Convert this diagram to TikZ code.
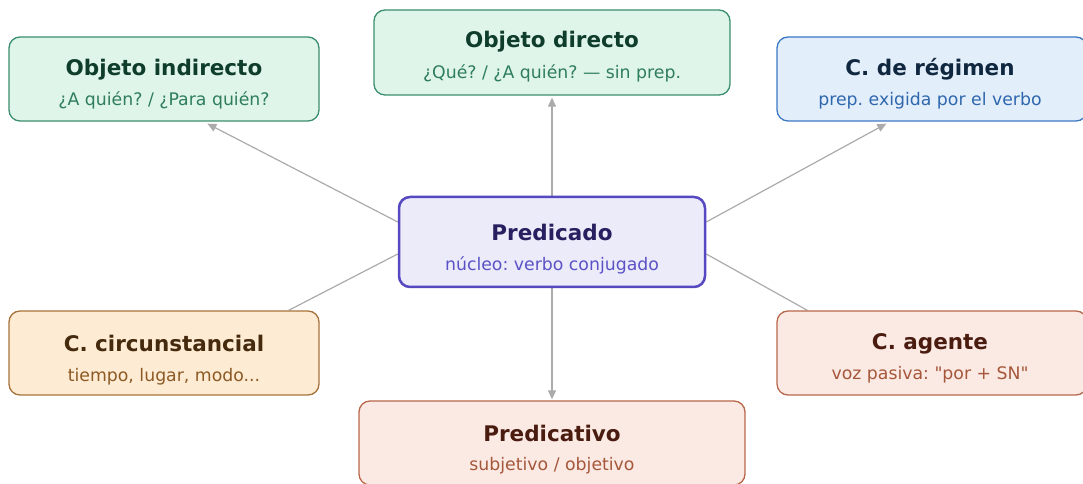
\documentclass[tikz,border=0pt]{standalone}
\usepackage{fontspec}
\setmainfont{DejaVu Sans}[Ligatures=TeXOff]
\frenchspacing
\usetikzlibrary{arrows.meta,calc,backgrounds}
\definecolor{gB}{HTML}{3A8F6E}\definecolor{gF}{HTML}{E0F5EA}\definecolor{gT}{HTML}{0F3D2B}\definecolor{gS}{HTML}{2E7D5B}
\definecolor{bB}{HTML}{3B78C4}\definecolor{bF}{HTML}{E3EEFB}\definecolor{bT}{HTML}{10283F}\definecolor{bS}{HTML}{2F67AD}
\definecolor{pB}{HTML}{5548C0}\definecolor{pF}{HTML}{EBEBFA}\definecolor{pT}{HTML}{272060}\definecolor{pS}{HTML}{5B52C6}
\definecolor{oB}{HTML}{A8733A}\definecolor{oF}{HTML}{FDEBD3}\definecolor{oT}{HTML}{452A0D}\definecolor{oS}{HTML}{8C5A25}
\definecolor{rB}{HTML}{B8674A}\definecolor{rF}{HTML}{FBE9E4}\definecolor{rT}{HTML}{4A1C10}\definecolor{rS}{HTML}{A5573A}
\definecolor{linkgray}{HTML}{ABABAB}
\tikzset{
  card/.style 2 args={draw=#1, fill=#2, rounded corners=11pt, line width=1.3pt, inner sep=0pt},
  ttl/.style={font=\fontsize{21.5}{24}\selectfont\bfseries, anchor=base, inner sep=0pt},
  subt/.style={font=\fontsize{17.3}{20}\selectfont, anchor=base, inner sep=0pt},
  conn/.style={draw=linkgray, line width=1.2pt},
  conarr/.style={conn, -{Triangle[length=9pt,width=8pt]}},
}
\begin{document}
\begin{tikzpicture}[x=1pt,y=1pt]
\useasboundingbox (0,0) rectangle (1083,484);
% boxes
\node[card={gB}{gF}, minimum width=310pt, minimum height=84pt] (oi) at (164,405) {};
\node[card={gB}{gF}, minimum width=356pt, minimum height=85pt] (od) at (552,431.5) {};
\node[card={bB}{bF}, minimum width=310pt, minimum height=84pt] (cr) at (932,405) {};
\node[card={pB}{pF}, line width=2.5pt, minimum width=306pt, minimum height=90pt] (pred) at (552,242) {};
\node[card={oB}{oF}, minimum width=310pt, minimum height=84pt] (cc) at (164,131) {};
\node[card={rB}{rF}, minimum width=386pt, minimum height=84pt] (pv) at (552,41) {};
\node[card={rB}{rF}, minimum width=310pt, minimum height=84pt] (ag) at (932,131) {};
% texts
\node[ttl, text=gT] (oi-t) at ($(oi.north)+(0,-39)$) {Objeto indirecto};
\node[subt, text=gS] (oi-s) at ($(oi.north)+(0,-69)$) {¿A quién? / ¿Para quién?};
\node[ttl, text=gT] (od-t) at ($(od.north)+(0,-38)$) {Objeto directo};
\node[subt, text=gS] (od-s) at ($(od.north)+(0,-69)$) {¿Qué? / ¿A quién? — sin prep.};
\node[ttl, text=bT] (cr-t) at ($(cr.north)+(-2,-39)$) {C. de régimen};
\node[subt, text=bS] (cr-s) at ($(cr.north)+(-2,-69)$) {prep. exigida por el verbo};
\node[ttl, text=pT] (pred-t) at ($(pred.north)+(0,-45)$) {Predicado};
\node[subt, text=pS] (pred-s) at ($(pred.north)+(0,-75)$) {núcleo: verbo conjugado};
\node[ttl, text=oT] (cc-t) at ($(cc.north)+(0,-41)$) {C. circunstancial};
\node[subt, text=oS] (cc-s) at ($(cc.north)+(0,-71)$) {tiempo, lugar, modo...};
\node[ttl, text=rT] (pv-t) at ($(pv.north)+(0,-41)$) {Predicativo};
\node[subt, text=rS] (pv-s) at ($(pv.north)+(0,-70)$) {subjetivo / objetivo};
\node[ttl, text=rT] (ag-t) at ($(ag.north)+(-2,-39)$) {C. agente};
\node[subt, text=rS] (ag-s) at ($(ag.north)+(-2,-69)$) {voz pasiva: "por + SN"};
% connectors
\begin{scope}[on background layer]
\draw[conarr] ($(pred.west)+(0,20)$) -- ($(oi.south west)+(199,-2)$);
\draw[conarr] ($(pred.east)+(0,20)$) -- ($(cr.south west)+(110,-2)$);
\draw[conarr] (pred.north) -- ($(od.south)+(0,-2)$);
\draw[conarr] (pred.south) -- ($(pv.north)+(0,1)$);
\draw[conn] ($(pred.west)+(0,-12)$) -- ($(cc.north east)+(-31,0)$);
\draw[conn] ($(pred.east)+(0,-12)$) -- ($(ag.north west)+(31,0)$);
\end{scope}
\end{tikzpicture}
\end{document}
